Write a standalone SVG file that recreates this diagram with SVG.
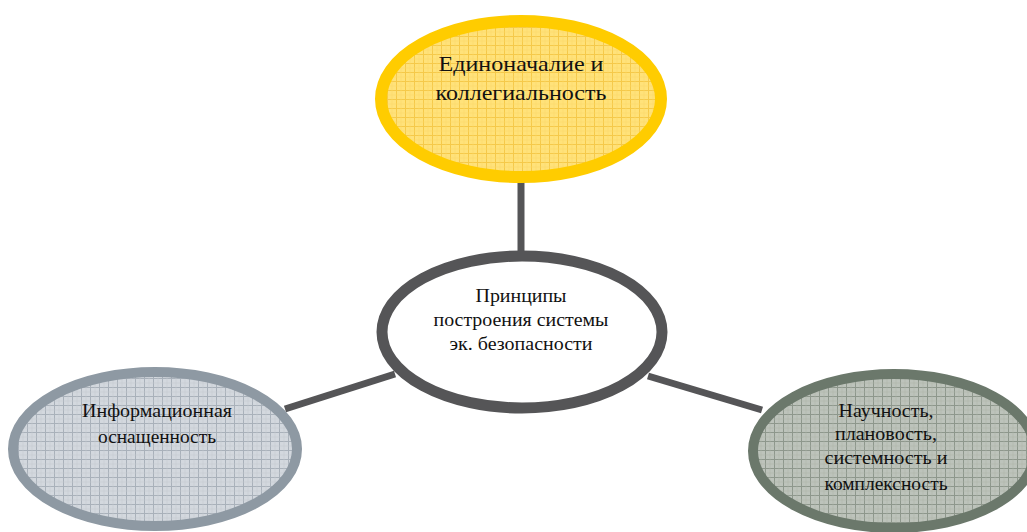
<svg xmlns="http://www.w3.org/2000/svg" width="1027" height="532" viewBox="0 0 1027 532">
<style>
.t{fill:#111;text-anchor:middle}
.conn{stroke:#555557;stroke-width:7;fill:none}
</style>
<defs>
<pattern id="gy" width="9" height="9" patternUnits="userSpaceOnUse">
<rect width="9" height="9" fill="#FFE27A"/>
<path d="M0 0.5H9M0.5 0V9" stroke="#F5C94A" stroke-width="1"/>
<path d="M0 5H9M5 0V9" stroke="#FBD866" stroke-width="0.5"/>
</pattern>
<pattern id="gb" width="9" height="9" patternUnits="userSpaceOnUse">
<rect width="9" height="9" fill="#D3D8DE"/>
<path d="M0 0.5H9M0.5 0V9" stroke="#A9B1BA" stroke-width="1"/>
<path d="M0 5H9M5 0V9" stroke="#C3C9D0" stroke-width="0.5"/>
</pattern>
<pattern id="gg" width="9" height="9" patternUnits="userSpaceOnUse">
<rect width="9" height="9" fill="#BDC3BB"/>
<path d="M0 0.5H9M0.5 0V9" stroke="#8E978C" stroke-width="1"/>
<path d="M0 5H9M5 0V9" stroke="#ABB2A9" stroke-width="0.5"/>
</pattern>
</defs>
<g id="connectors">
<line class="conn" x1="521" y1="180" x2="521" y2="254"/>
<line class="conn" x1="285" y1="409" x2="395" y2="374"/>
<line class="conn" x1="648" y1="376" x2="762" y2="410"/>
</g>
<g font-family="'Liberation Serif', 'Times New Roman', serif">
<g id="node-top">
<ellipse cx="521" cy="99" rx="140" ry="78" fill="url(#gy)" stroke="#FFCC00" stroke-width="12"/>
<text class="t" x="521" y="71" font-size="21" textLength="165" lengthAdjust="spacingAndGlyphs">Единоначалие и</text>
<text class="t" x="521" y="100" font-size="21" textLength="171" lengthAdjust="spacingAndGlyphs">коллегиальность</text>
</g>
<g id="node-center">
<ellipse cx="522" cy="332" rx="140" ry="76" fill="#FFFFFF" stroke="#555557" stroke-width="11"/>
<text class="t" x="521" y="302" font-size="18" textLength="91" lengthAdjust="spacingAndGlyphs">Принципы</text>
<text class="t" x="521" y="326" font-size="18" textLength="175" lengthAdjust="spacingAndGlyphs">построения системы</text>
<text class="t" x="521" y="350" font-size="18" textLength="143" lengthAdjust="spacingAndGlyphs">эк. безопасности</text>
</g>
<g id="node-left">
<ellipse cx="155" cy="449" rx="142" ry="77" fill="url(#gb)" stroke="#8E99A3" stroke-width="10"/>
<text class="t" x="157" y="417" font-size="19" textLength="150" lengthAdjust="spacingAndGlyphs">Информационная</text>
<text class="t" x="157" y="443" font-size="19" textLength="118" lengthAdjust="spacingAndGlyphs">оснащенность</text>
</g>
<g id="node-right">
<ellipse cx="894" cy="451" rx="141" ry="77" fill="url(#gg)" stroke="#6B786B" stroke-width="10"/>
<text class="t" x="886" y="417" font-size="19" textLength="95" lengthAdjust="spacingAndGlyphs">Научность,</text>
<text class="t" x="886" y="440" font-size="19" textLength="102" lengthAdjust="spacingAndGlyphs">плановость,</text>
<text class="t" x="886" y="464" font-size="19" textLength="123" lengthAdjust="spacingAndGlyphs">системность и</text>
<text class="t" x="886" y="490" font-size="19" textLength="123" lengthAdjust="spacingAndGlyphs">комплексность</text>
</g>
</g>
</svg>
